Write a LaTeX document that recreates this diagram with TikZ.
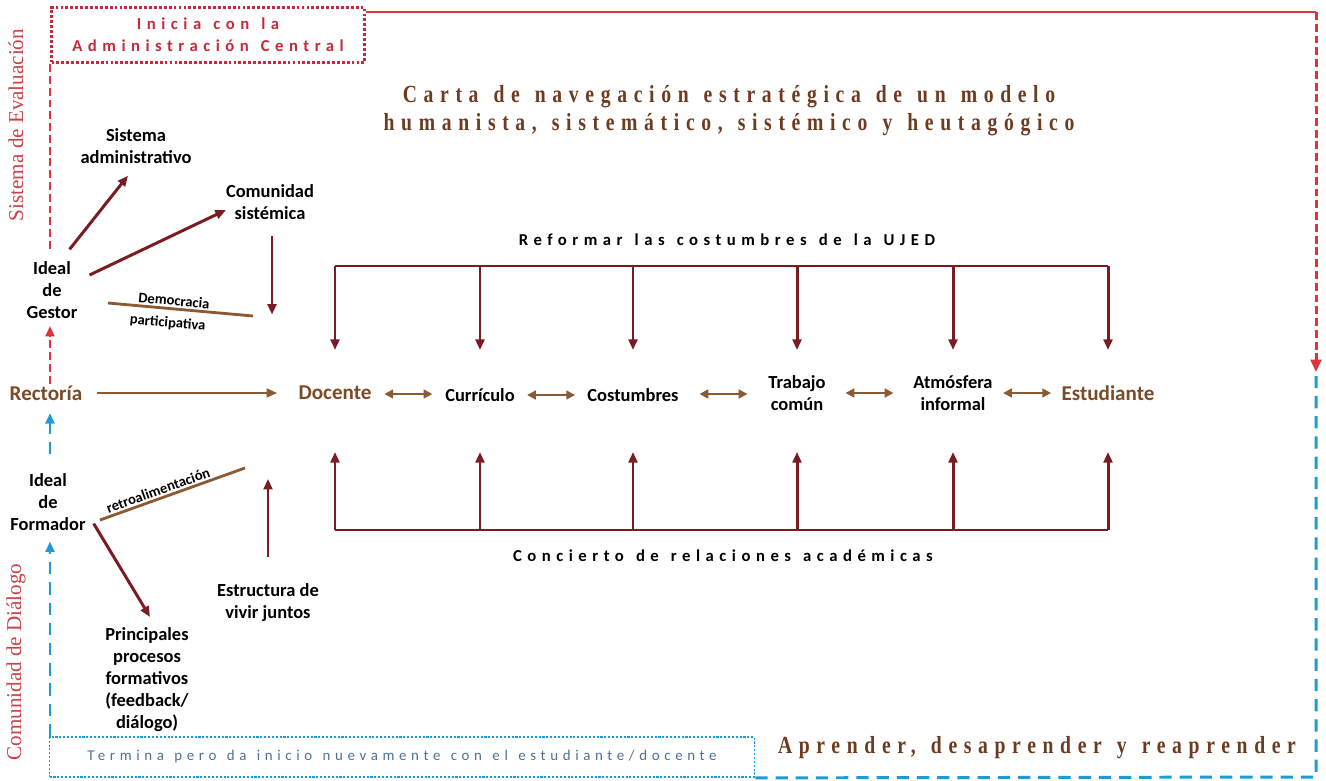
\documentclass[tikz,border=0pt]{standalone}
\usepackage{fontspec}
\setmainfont{Carlito}
\newfontfamily\titlefont{Liberation Serif}[FakeStretch=0.8,LetterSpace=27,WordSpace=1.3]
\newfontfamily\spacedfont{Carlito}[LetterSpace=33,WordSpace=1.3]
\newfontfamily\termfont{Carlito}[LetterSpace=31,WordSpace=1.3]
\newfontfamily\sidefont{Liberation Serif}
\usetikzlibrary{arrows.meta,calc}

\definecolor{arrowred}{HTML}{7A1C22}
\definecolor{linkbrown}{HTML}{8A5A32}
\definecolor{textbrown}{HTML}{7B4A26}
\definecolor{titlebrown}{HTML}{6E3B20}
\definecolor{evalred}{HTML}{E0343A}
\definecolor{boxred}{HTML}{C42A3A}
\definecolor{sidered}{HTML}{CC4048}
\definecolor{dialblue}{HTML}{1F9BD3}
\definecolor{termblue}{HTML}{50708F}

\tikzset{
  lbl/.style={font=\bfseries\fontsize{10.5}{12.5}\selectfont, align=center, inner sep=1pt},
  keylbl/.style={font=\bfseries\fontsize{12}{14}\selectfont, text=textbrown, inner sep=1pt},
  tinylbl/.style={font=\bfseries\fontsize{8.3}{10}\selectfont, inner sep=1pt},
  spaced/.style={font=\spacedfont\bfseries\fontsize{9.5}{12.5}\selectfont, align=center},
  sidelbl/.style={font=\sidefont\fontsize{12}{14}\selectfont, text=sidered, rotate=90},
  darr/.style={draw=arrowred, line width=1.7pt, -{Triangle[length=6pt,width=5pt]}},
  dblarr/.style={draw=linkbrown, line width=1.5pt, {Triangle[length=5pt,width=5pt]}-{Triangle[length=5pt,width=5pt]}},
  link/.style={draw=linkbrown, line width=1.6pt},
  reddash/.style={draw=evalred, line width=1.7pt, dash pattern=on 4.5pt off 2.2pt},
  bluedash/.style={draw=dialblue, line width=1.7pt, dash pattern=on 7pt off 4.5pt},
}

\begin{document}
\begin{tikzpicture}[x=0.02cm,y=-0.02cm]
\useasboundingbox (0,0) rectangle (1326,781);

\node[draw=boxred, line width=2pt, dash pattern=on 1.6pt off 1.2pt,
  minimum width=6.26cm, minimum height=1.1cm, spaced, text=boxred] (inicia) at (208,35)
  {Inicia con la\\Administración Central};
\node[draw=dialblue, line width=1pt, dash pattern=on 1.2pt off 1pt,
  minimum width=14.1cm, minimum height=0.8cm, font=\termfont\fontsize{8.5}{10}\selectfont,
  text=termblue] (term) at (402,757)
  {Termina pero da inicio nuevamente con el estudiante/docente};
\node[sidelbl] (evaltxt) at (16,125) {Sistema de Evaluación};
\node[sidelbl] (dialtxt) at (16,662) {Comunidad de Diálogo};

\node[font=\titlefont\bfseries\fontsize{14}{16}\selectfont, text=titlebrown, align=center] (title) at (729,111)
  {Carta de navegación estratégica de un modelo\\humanista, sistemático, sistémico y heutagógico};
\node[font=\titlefont\bfseries\fontsize{14}{16}\selectfont, text=titlebrown] (aprender) at (1037,748)
  {Aprender, desaprender y reaprender};

\node[lbl] (sisadm) at (136,146) {Sistema\\administrativo};
\node[lbl] (comsis) at (270,202) {Comunidad\\sistémica};
\node[lbl] (gestor) at (52,290) {Ideal\\de\\Gestor};
\node[keylbl] (rect) at (46,393) {Rectoría};
\node[lbl] (formador) at (48,502) {Ideal\\de\\Formador};
\node[lbl] (princ) at (147,680) {Principales\\procesos\\formativos\\(feedback/\\diálogo)};
\node[lbl] (estr) at (268,603) {Estructura de\\vivir juntos};

\node[keylbl] (doc) at (335,393) {Docente};
\node[lbl] (curr) at (480,395) {Currículo};
\node[lbl] (cost) at (633,395) {Costumbres};
\node[lbl] (trab) at (797,393) {Trabajo\\común};
\node[lbl] (atm) at (953,393) {Atmósfera\\informal};
\node[keylbl] (est) at (1108,393) {Estudiante};

\node[spaced] (reftxt) at (727,240) {Reformar las costumbres de la UJED};
\node[spaced] (contxt) at (723,556) {Concierto de relaciones académicas};

\coordinate (spine) at (50,0);
\coordinate (redcorner) at (1316,12);
\coordinate (redtip) at (1316,372);
\coordinate (bluecorner) at (1316,777);
\coordinate (reform) at (0,266);
\coordinate (reftip) at (0,350);
\coordinate (concert) at (0,530);
\coordinate (contip) at (0,452);
\coordinate (demA) at (108,303);
\coordinate (demB) at (253,316);
\coordinate (retroA) at (100,520);
\coordinate (retroB) at (245,468);

\draw[evalred, line width=1.7pt] (inicia.east |- redcorner) -- (redcorner);
\draw[reddash, -{Triangle[length=7pt,width=6pt]}] (redcorner) -- (redtip);
\draw[reddash, shorten >=5pt] (spine |- inicia.south) -- (spine |- gestor.north);
\draw[reddash, -{Triangle[length=6pt,width=5pt]}, shorten >=3pt] (spine |- rect.north) -- (spine |- gestor.south);
\draw[bluedash, -{Triangle[length=6pt,width=5pt]}, shorten <=10pt, shorten >=6pt] (spine |- formador.north) -- (spine |- rect.south);
\draw[bluedash, -{Triangle[length=6pt,width=5pt]}, shorten >=5pt] (spine |- term.north) -- (spine |- formador.south);
\draw[bluedash] (term.south east) -- (bluecorner) -- ($(redtip)+(0,4)$);

\draw[darr] ($(gestor.north east)+(-10,-10)$) -- ($(sisadm.south)+(-8,10)$);
\draw[darr] ($(gestor.east)+(10,-15)$) -- ($(comsis.west)+(2,8)$);
\draw[darr] ($(comsis.south)+(2,14)$) -- ++(0,79);
\draw[link] (demA) -- node[tinylbl, pos=0.45, above, sloped] {Democracia}
  node[tinylbl, pos=0.42, below=3pt, sloped] {participativa} (demB);
\draw[link] (retroA) -- node[tinylbl, pos=0.42, above, sloped] {retroalimentación} (retroB);
\draw[darr] ($(formador.south east)+(6,-9)$) -- ($(princ.north)+(3,-9)$);
\draw[darr] ($(estr.north)+(0,-25)$) -- ++(0,-78);

\draw[draw=linkbrown, line width=1.3pt, -{Triangle[length=6pt,width=5pt]}, shorten <=7pt, shorten >=11pt] (rect) -- (doc);
\foreach \a/\b in {doc/curr,curr/cost,cost/trab,trab/atm,atm/est}
  \draw[dblarr] ($(\a.east)!0.5!(\b.west)+(-24,0)$) -- ++(48,0);

\draw[arrowred, line width=1.7pt] (doc |- reform) -- (est |- reform);
\draw[arrowred, line width=1.7pt] (doc |- concert) -- (est |- concert);
\foreach \n in {doc,curr,cost,trab,atm,est} {
  \draw[darr] (\n |- reform) -- (\n |- reftip);
  \draw[darr] (\n |- concert) -- (\n |- contip);
}
\end{tikzpicture}
\end{document}
